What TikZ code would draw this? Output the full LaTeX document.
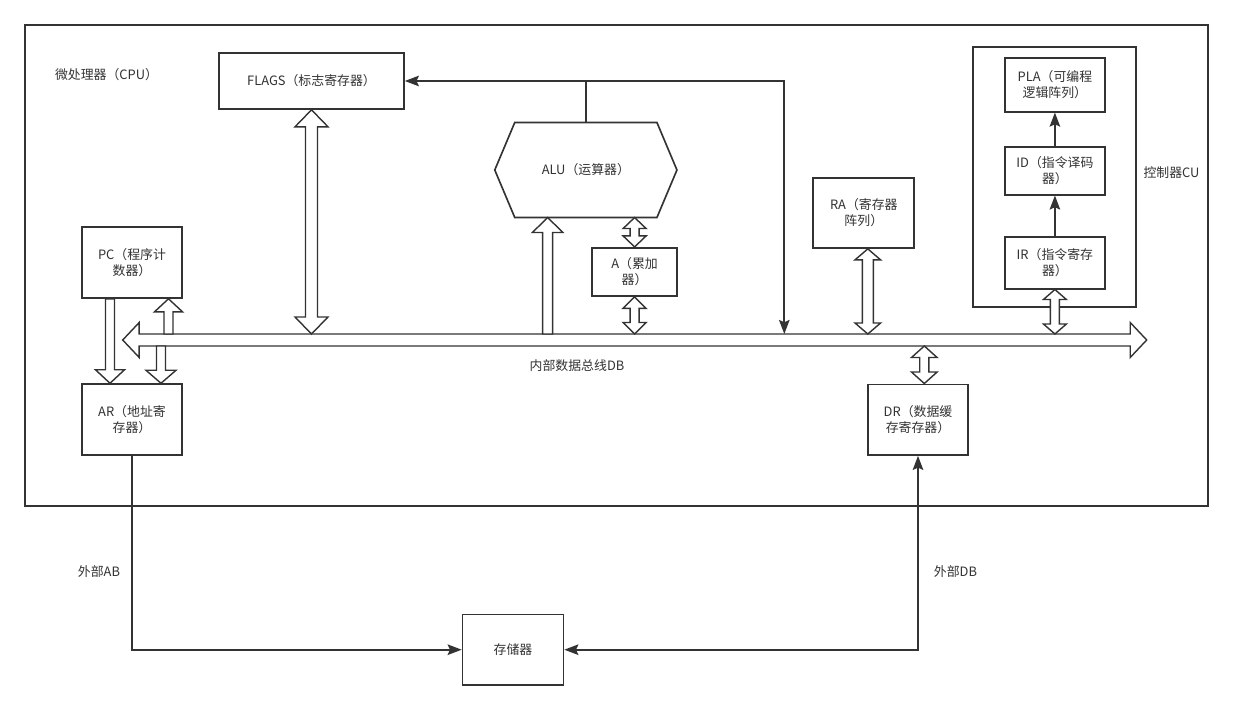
\documentclass[tikz,border=0pt]{standalone}
\usepackage{fontspec}
\setmainfont{Noto Sans CJK SC}
\usetikzlibrary{arrows.meta,calc}
\definecolor{linec}{HTML}{333333}
\definecolor{txtc}{HTML}{333333}
\def\pxu{0.853583pt}
% vertical double block arrow: #1 top tip, #2 bottom tip, #3 shaft half width, #4 head half width, #5 head length (px)
\newcommand\dblv[5]{\draw[blk] let \p1=(#1), \p2=(#2) in
 (\x1,\y1) -- ({\x1+#4*\pxu},{\y1-#5*\pxu}) -- ({\x1+#3*\pxu},{\y1-#5*\pxu}) -- ({\x1+#3*\pxu},{\y2+#5*\pxu}) -- ({\x1+#4*\pxu},{\y2+#5*\pxu}) -- (\x1,\y2) -- ({\x1-#4*\pxu},{\y2+#5*\pxu}) -- ({\x1-#3*\pxu},{\y2+#5*\pxu}) -- ({\x1-#3*\pxu},{\y1-#5*\pxu}) -- ({\x1-#4*\pxu},{\y1-#5*\pxu}) -- cycle;}
% upward block arrow: #1 tip (top), #2 tail (bottom)
\newcommand\upv[5]{\draw[blk] let \p1=(#1), \p2=(#2) in
 (\x1,\y1) -- ({\x1+#4*\pxu},{\y1-#5*\pxu}) -- ({\x1+#3*\pxu},{\y1-#5*\pxu}) -- ({\x1+#3*\pxu},\y2) -- ({\x1-#3*\pxu},\y2) -- ({\x1-#3*\pxu},{\y1-#5*\pxu}) -- ({\x1-#4*\pxu},{\y1-#5*\pxu}) -- cycle;}
% downward block arrow: #1 tail (top), #2 tip (bottom)
\newcommand\downv[5]{\draw[blk] let \p1=(#1), \p2=(#2) in
 (\x1,\y2) -- ({\x1+#4*\pxu},{\y2+#5*\pxu}) -- ({\x1+#3*\pxu},{\y2+#5*\pxu}) -- ({\x1+#3*\pxu},\y1) -- ({\x1-#3*\pxu},\y1) -- ({\x1-#3*\pxu},{\y2+#5*\pxu}) -- ({\x1-#4*\pxu},{\y2+#5*\pxu}) -- cycle;}
\begin{document}
\begin{tikzpicture}[x=0.03cm,y=-0.03cm,
  every node/.style={text=txtc, font=\fontsize{11}{13.7}\selectfont},
  box/.style={draw=linec, line width=1.4pt, fill=white, align=center, inner sep=0pt},
  bsize/.style 2 args={minimum width=#1*\pxu, minimum height=#2*\pxu},
  hex/.style={draw=linec, line width=1.4pt, line join=miter},
  blk/.style={draw=linec, line width=1.2pt, fill=white, line join=miter},
  conn/.style={draw=linec, line width=1.4pt, -{Stealth[length=12pt,width=9pt,inset=2pt]}},
  conn2/.style={draw=linec, line width=1.4pt, {Stealth[length=12pt,width=9pt,inset=2pt]}-{Stealth[length=12pt,width=9pt,inset=2pt]}},
  lbl/.style={align=center, inner sep=0pt}]
\useasboundingbox[fill=white] (0,0) rectangle (1258,710);

% containers
\node[box, bsize={1183}{481}] (cpu) at (616.5,265.5) {};
\node[box, bsize={163.3}{260}] (cu) at (1054.4,176.7) {};

% labels
\node[lbl] (cpulbl) at (106.5,75) {微处理器（CPU）};
\node[lbl] (culbl) at (1171.5,172.7) {控制器CU};
\node[lbl] (buslbl) at (577,366) {内部数据总线DB};
\node[lbl] (ablbl) at (99,572) {外部AB};
\node[lbl] (dblbl) at (955.5,572) {外部DB};

% bus
\coordinate (busL) at (122.7,340);
\coordinate (busR) at (1146.7,340);
\coordinate (bustop) at (0,334);
\coordinate (busbot) at (0,346);
\draw[blk] let \p1=(busL), \p2=(busR) in
  (\x1,\y1) -- ({\x1+16.5*\pxu},{\y1+17.5*\pxu}) -- ({\x1+16.5*\pxu},{\y1+6*\pxu}) -- ({\x2-16.5*\pxu},{\y1+6*\pxu}) -- ({\x2-16.5*\pxu},{\y1+17.5*\pxu}) -- (\x2,\y1) -- ({\x2-16.5*\pxu},{\y1-17.5*\pxu}) -- ({\x2-16.5*\pxu},{\y1-6*\pxu}) -- ({\x1+16.5*\pxu},{\y1-6*\pxu}) -- ({\x1+16.5*\pxu},{\y1-17.5*\pxu}) -- cycle;

% boxes
\node[box, bsize={185}{56}] (flags) at (311.5,81) {FLAGS（标志寄存器）};
\node[box, bsize={100.5}{71}] (pc) at (132,262.5) {PC（程序计\\数器）};
\node[box, bsize={100.5}{71}] (ar) at (132,419.6) {AR（地址寄\\存器）};
\node[lbl, bsize={181.7}{94.6}] (alu) at (585.85,170) {ALU（运算器）};
\draw[hex] (alu.west) -- ([xshift=20*\pxu]alu.north west) -- ([xshift=-20*\pxu]alu.north east) -- (alu.east) -- ([xshift=-20*\pxu]alu.south east) -- ([xshift=20*\pxu]alu.south west) -- cycle;
\node[box, bsize={85.3}{48.3}] (a) at (634.6,271.9) {A（累加\\器）};
\node[box, bsize={101}{70.3}] (ra) at (863.8,212.9) {RA（寄存器\\阵列）};
\node[box, bsize={100.3}{53.7}] (pla) at (1054.9,84.9) {PLA（可编程\\逻辑阵列）};
\node[box, bsize={100.3}{48}] (id) at (1054.9,170.7) {ID（指令译码\\器）};
\node[box, bsize={100.3}{52}] (ir) at (1054.9,262.7) {IR（指令寄存\\器）};
\node[box, bsize={100.6}{70.7}] (dr) at (918,419.7) {DR（数据缓\\存寄存器）};
\node[box, bsize={101}{70.7}] (mem) at (513,649.7) {存储器};

% block arrows
\dblv{flags.south}{flags.south |- bustop}{6}{16.5}{17}
\downv{[xshift=-22*\pxu]pc.south}{[xshift=-22*\pxu]ar.north}{4.5}{14.5}{13.5}
\upv{[xshift=36.5*\pxu]pc.south}{[xshift=36.5*\pxu]pc.south |- bustop}{4.5}{14}{13}
\downv{[xshift=29*\pxu]ar.north |- busbot}{[xshift=29*\pxu]ar.north}{4.5}{15}{13}
\upv{[xshift=-38.2*\pxu]alu.south}{[xshift=-38.2*\pxu]alu.south |- bustop}{5}{15.3}{15}
\dblv{a.north |- alu.south}{a.north}{4.5}{11.5}{11}
\dblv{a.south}{a.south |- bustop}{4.5}{11.5}{11.5}
\dblv{[xshift=4*\pxu]ra.south}{[xshift=4*\pxu]ra.south |- bustop}{5.5}{12.8}{11}
\dblv{ir.south}{ir.south |- bustop}{4.5}{11.5}{10}
\dblv{[xshift=6.3*\pxu]dr.north |- busbot}{[xshift=6.3*\pxu]dr.north}{4.6}{12.8}{11.5}

% thin connectors
\coordinate (jr) at (784.3,81);
\draw[conn] (alu.north) -- (alu.north |- flags.east) -- (flags.east);
\draw[conn] (alu.north |- flags.east) -- (jr) -- (jr |- bustop);
\draw[conn] (ir) -- (id);
\draw[conn] (id) -- (pla);
\draw[conn] (ar.south) -- (ar.south |- mem.west) -- (mem.west);
\draw[conn2] (mem.east) -- (dr.south |- mem.east) -- (dr.south);
\end{tikzpicture}
\end{document}
